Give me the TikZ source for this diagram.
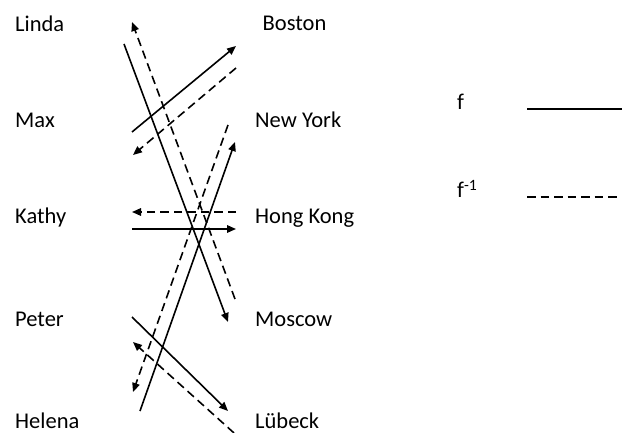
\documentclass[tikz,border=0pt]{standalone}
\usepackage{fontspec}
\setmainfont{Carlito}
\usetikzlibrary{arrows.meta}
\begin{document}
\begin{tikzpicture}[x=1pt,y=-1pt,
  lbl/.style={anchor=base west,inner sep=0pt,font=\fontsize{22.5}{26}\selectfont},
  fmap/.style={line width=1.6pt,-{Triangle[length=9pt,width=7.5pt]}},
  finv/.style={line width=1.6pt,dash pattern=on 8.5pt off 5pt,-{Triangle[length=9pt,width=7.5pt]}},
  legsolid/.style={line width=1.6pt},
  legdash/.style={line width=1.6pt,dash pattern=on 8.5pt off 5pt}]
\useasboundingbox (0,0) rectangle (622,433);
% labels
\node[lbl] (linda)  at (15,31.7)  {Linda};
\node[lbl] (max)    at (15,127.3) {Max};
\node[lbl] (kathy)  at (15,223.3) {Kathy};
\node[lbl] (peter)  at (15,326.7) {Peter};
\node[lbl] (helena) at (15,428.5) {Helena};
\node[lbl] (boston)   at (262.5,31)  {Boston};
\node[lbl] (newyork)  at (255,127.3) {New York};
\node[lbl] (hongkong) at (255,223.3) {Hong Kong};
\node[lbl] (moscow)   at (255,326.7) {Moscow};
\node[lbl] (luebeck)  at (255,428.5) {Lübeck};
% legend
\node[lbl] (lf)    at (457,110) {f};
\node[lbl] (lfinv) at (457,198) {f\textsuperscript{-1}};
\coordinate (ls1) at (527,109);
\coordinate (ls2) at (622,109);
\coordinate (ld1) at (527,197);
\coordinate (ld2) at (620,197);
\draw[legsolid] (ls1) -- (ls2);
\draw[legdash] (ld1) -- (ld2);
% endpoints
\coordinate (a1) at (124,44);   \coordinate (a2) at (228,322);
\coordinate (b1) at (235,299);  \coordinate (b2) at (132,22);
\coordinate (c1) at (132,132);  \coordinate (c2) at (236,46);
\coordinate (d1) at (236,68);   \coordinate (d2) at (133,155);
\coordinate (e1) at (132,229);  \coordinate (e2) at (236,229);
\coordinate (g1) at (236,212);  \coordinate (g2) at (132,212);
\coordinate (h1) at (140,411);  \coordinate (h2) at (235,142);
\coordinate (i1) at (228,125);  \coordinate (i2) at (133,392);
\coordinate (j1) at (132,317);  \coordinate (j2) at (228,411);
\coordinate (k1) at (234,433);  \coordinate (k2) at (133,342);
% f
\draw[fmap] (a1) -- (a2);
\draw[fmap] (c1) -- (c2);
\draw[fmap] (e1) -- (e2);
\draw[fmap] (h1) -- (h2);
\draw[fmap] (j1) -- (j2);
% f^-1
\draw[finv] (b1) -- (b2);
\draw[finv] (d1) -- (d2);
\draw[finv] (g1) -- (g2);
\draw[finv] (i1) -- (i2);
\draw[finv] (k1) -- (k2);
\end{tikzpicture}
\end{document}
